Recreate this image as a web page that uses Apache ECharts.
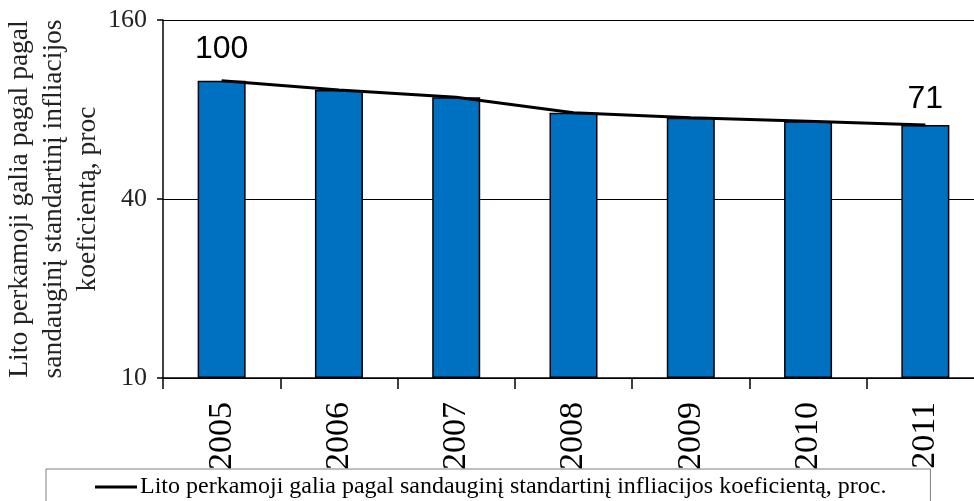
<!DOCTYPE html>
<html>
<head>
<meta charset="utf-8">
<script src="https://cdn.jsdelivr.net/npm/echarts@6/dist/echarts.min.js"></script>
<style>
  html, body { margin: 0; padding: 0; background: #fff; }
  #chart { width: 974px; height: 501px; }
</style>
</head>
<body>
<div id="chart"></div>
<script>
// data
const years = ['2005', '2006', '2007', '2008', '2009', '2010', '2011'];
const barValues = [100, 93, 88, 78, 75, 73, 71];
const lineValues = [100, 93, 88, 78, 75, 73, 71];
const yTicks = [10, 40, 160];
const seriesName = 'Lito perkamoji galia pagal sandauginį standartinį infliacijos koeficientą, proc.';
const yTitle = 'Lito perkamoji galia pagal pagal\nsandauginį standartinį infliacijos\nkoeficientą, proc';

// axis is log base 4, drawn on a value axis measured from the first tick
const logBase = 4;
const toAxis = v => Math.log(v / yTicks[0]) / Math.log(logBase);
const fromAxis = a => Math.round(yTicks[0] * Math.pow(logBase, a));

const serif = '"Liberation Serif", "Times New Roman", serif';

var myChart = echarts.init(document.getElementById('chart'));
var option = {
  animation: false,
  grid: {
    left: 163,
    right: -10,
    top: 20,
    bottom: 123,
    containLabel: false,
    outerBoundsMode: 'none'
  },
  legend: {
    data: [{ name: seriesName, icon: 'rect' }],
    left: 46,
    top: 469,
    padding: [6, 44, 10, 49],
    borderColor: '#7f7f7f',
    borderWidth: 1,
    itemWidth: 42,
    itemHeight: 3,
    itemGap: 0,
    textStyle: {
      fontFamily: serif,
      fontSize: 24,
      color: '#000',
      padding: [0, 0, 0, -2]
    }
  },
  xAxis: {
    type: 'category',
    data: years,
    axisLine: { lineStyle: { color: '#000', width: 1.5 } },
    axisTick: { show: true, length: 11, lineStyle: { color: '#000', width: 1.5 } },
    axisLabel: {
      rotate: 90,
      margin: 24,
      fontFamily: serif,
      fontSize: 34,
      color: '#000'
    }
  },
  yAxis: {
    type: 'value',
    min: 0,
    max: toAxis(yTicks[yTicks.length - 1]),
    interval: 1,
    name: yTitle,
    nameLocation: 'middle',
    nameRotate: 90,
    nameGap: 58,
    nameMoveOverlap: false,
    nameTextStyle: {
      fontFamily: serif,
      fontSize: 27.5,
      lineHeight: 34,
      color: '#222',
      align: 'center'
    },
    axisLine: { show: true, lineStyle: { color: '#000', width: 1.5 } },
    axisTick: { show: true, length: 6, lineStyle: { color: '#000', width: 1.5 } },
    axisLabel: {
      margin: 16,
      fontFamily: serif,
      fontSize: 26,
      color: '#222',
      formatter: function (value) {
        return fromAxis(value);
      }
    },
    splitLine: {
      show: true,
      lineStyle: { color: '#000', width: 1.2 }
    }
  },
  series: [
    {
      name: 'bars',
      type: 'bar',
      data: barValues.map(toAxis),
      barWidth: 48,
      itemStyle: {
        color: '#0070C0',
        borderColor: '#000',
        borderWidth: 1.5
      },
      z: 2
    },
    {
      name: seriesName,
      type: 'line',
      data: lineValues.map(function (v, i) {
        var item = { value: toAxis(v) };
        if (i === 0 || i === lineValues.length - 1) {
          item.label = {
            show: true,
            position: 'top',
            distance: i === 0 ? 16 : 10,
            fontFamily: '"Liberation Sans", Arial, sans-serif',
            fontSize: 32,
            color: '#000',
            formatter: function () { return String(v); }
          };
        }
        return item;
      }),
      showSymbol: true,
      symbol: 'circle',
      symbolSize: 0,
      lineStyle: { color: '#000', width: 3 },
      itemStyle: { color: '#000' },
      z: 3
    }
  ]
};
myChart.setOption(option);
</script>
</body>
</html>
